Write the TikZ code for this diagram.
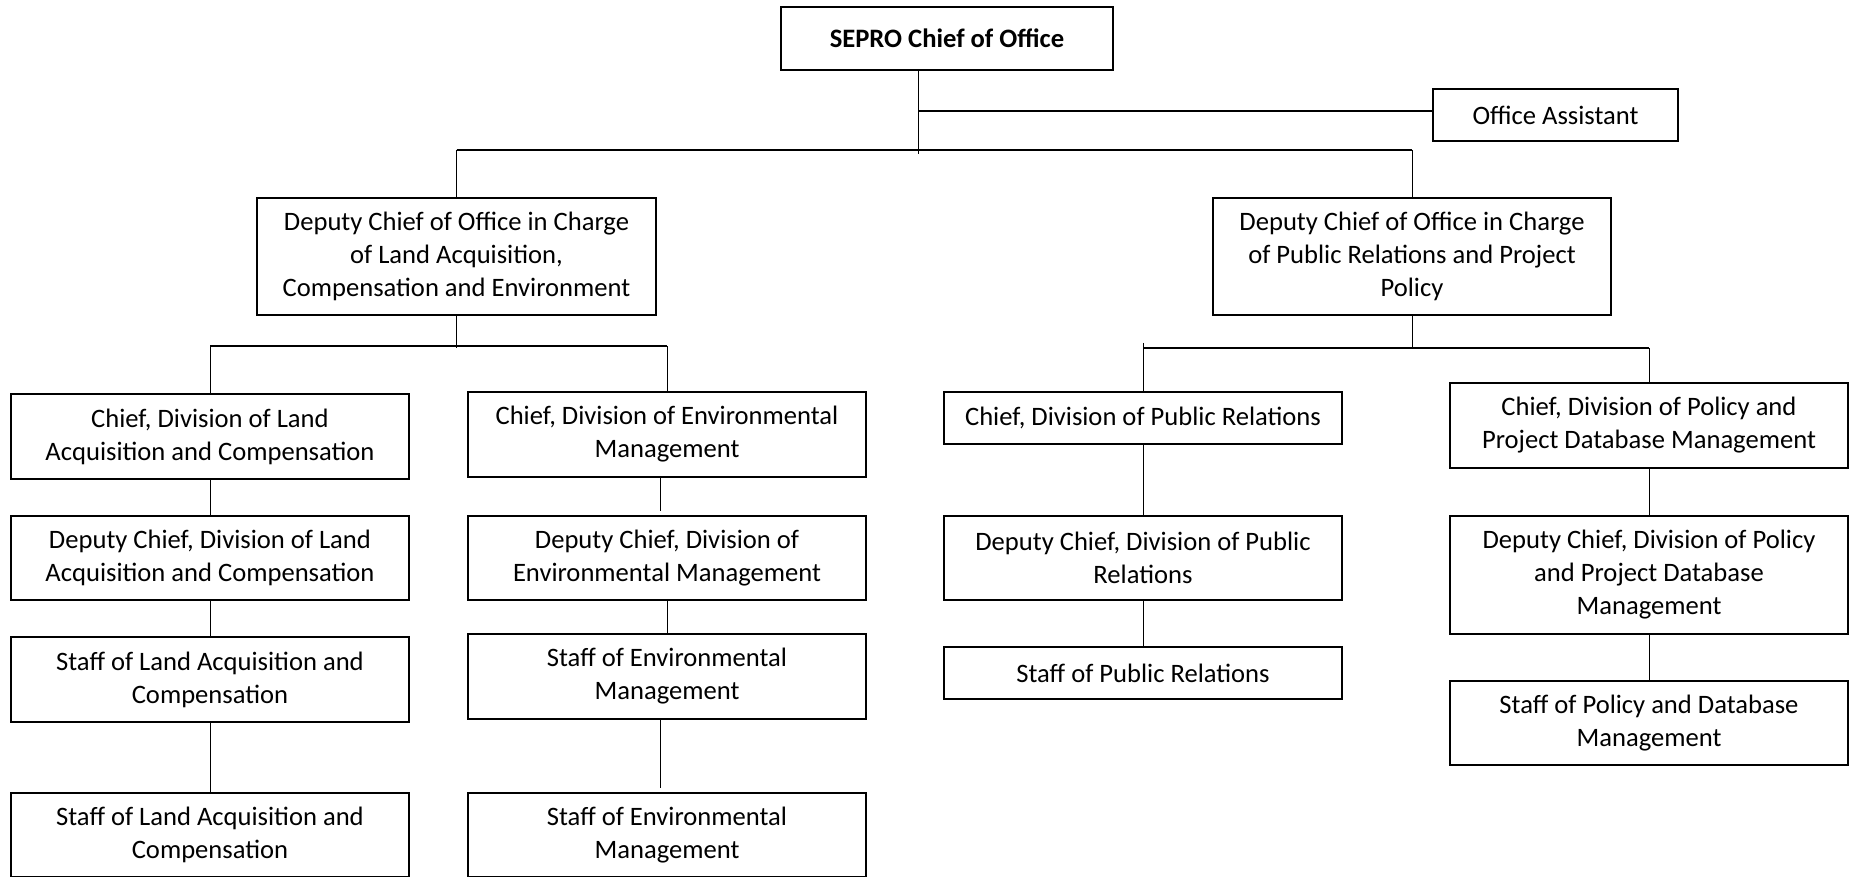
\documentclass[tikz,border=0pt]{standalone}
\usepackage{fontspec}
\setmainfont{Carlito}
\begin{document}
\begin{tikzpicture}[x=0.5pt,y=-0.5pt,
  box/.style={draw, line width=1pt, align=center, inner sep=0pt, fill=white,
    font=\fontsize{13.3}{16.5}\selectfont},
  sz/.style 2 args={minimum width={#1*0.5pt}, minimum height={#2*0.5pt}},
  vline/.style={line width=0.5pt},
  hline/.style={line width=1pt}]
\useasboundingbox (0,0) rectangle (1849,877);
% top
\node[box, sz={332}{63}] (sepro) at (947,38.5) {\textbf{SEPRO Chief of Office}};
\node[box, sz={245}{52}] (oa) at (1555.5,115) {Office Assistant};
\node[box, sz={399}{117}] (dl) at (456.5,256.5) {Deputy Chief of Office in Charge\\of Land Acquisition,\\Compensation and Environment};
\node[box, sz={398}{117}] (dr) at (1412,256.5) {Deputy Chief of Office in Charge\\of Public Relations and Project\\Policy};
% column 1
\node[box, sz={398}{85}] (c1a) at (210,436.5) {Chief, Division of Land\\Acquisition and Compensation};
\node[box, sz={398}{84}] (c1b) at (210,558) {Deputy Chief, Division of Land\\Acquisition and Compensation};
\node[box, sz={398}{85}] (c1c) at (210,679.5) {Staff of Land Acquisition and\\Compensation};
\node[box, sz={398}{84}] (c1d) at (210,835) {Staff of Land Acquisition and\\Compensation};
% column 2
\node[box, sz={398}{85}] (c2a) at (667,434.5) {Chief, Division of Environmental\\Management};
\node[box, sz={398}{84}] (c2b) at (667,558) {Deputy Chief, Division of\\Environmental Management};
\node[box, sz={398}{85}] (c2c) at (667,676.5) {Staff of Environmental\\Management};
\node[box, sz={398}{84}] (c2d) at (667,835) {Staff of Environmental\\Management};
% column 3
\node[box, sz={398}{52}] (c3a) at (1143,418) {Chief, Division of Public Relations};
\node[box, sz={398}{84}] (c3b) at (1143,558) {Deputy Chief, Division of Public\\Relations};
\node[box, sz={398}{52}] (c3c) at (1143,673) {Staff of Public Relations};
% column 4
\node[box, sz={398}{85}] (c4a) at (1649,425.5) {Chief, Division of Policy and\\Project Database Management};
\node[box, sz={398}{118}] (c4b) at (1649,575) {Deputy Chief, Division of Policy\\and Project Database\\Management};
\node[box, sz={398}{84}] (c4c) at (1649,723) {Staff of Policy and Database\\Management};
% connector coordinates
\coordinate (trtop) at (918,70);
\coordinate (trbot) at (918,154);
\coordinate (oaj) at (918,111);
\coordinate (busL) at (456.5,150);
\coordinate (busR) at (1412,150);
\coordinate (lbus) at (456.5,346);
\coordinate (rbus) at (1412,348);
% top connectors
\draw[vline] (trtop) -- (trbot);
\draw[hline] (oaj) -- (oaj -| oa.west);
\draw[hline] (busL) -- (busR);
\draw[vline] (busL) -- (dl.north);
\draw[vline] (busR) -- (dr.north);
% left sub-bus
\draw[vline] (dl.south) -- ([yshift=-1pt]lbus);
\draw[hline] (c1a.north |- lbus) -- (c2a.north |- lbus);
\draw[vline] (c1a.north |- lbus) -- (c1a.north);
\draw[vline] (c2a.north |- lbus) -- (c2a.north);
% right sub-bus
\draw[vline] (dr.south) -- (rbus);
\draw[hline] (c3a.north |- rbus) -- (c4a.north |- rbus);
\draw[vline] ([yshift=2.5pt]c3a.north |- rbus) -- (c3a.north);
\draw[vline] (c4a.north |- rbus) -- (c4a.north);
% column chains
\draw[vline] (c1a) -- (c1b);
\draw[vline] (c1b) -- (c1c);
\draw[vline] (c1c) -- (c1d);
\draw[vline] ([xshift=-3.5pt]c2a.south) -- ([xshift=-3.5pt,yshift=2pt]c2b.north);
\draw[vline] (c2b) -- (c2c);
\draw[vline] ([xshift=-3.5pt]c2c.south) -- ([xshift=-3.5pt,yshift=2pt]c2d.north);
\draw[vline] (c3a) -- (c3b);
\draw[vline] (c3b) -- (c3c);
\draw[vline] (c4a) -- (c4b);
\draw[vline] (c4b) -- (c4c);
\end{tikzpicture}
\end{document}
